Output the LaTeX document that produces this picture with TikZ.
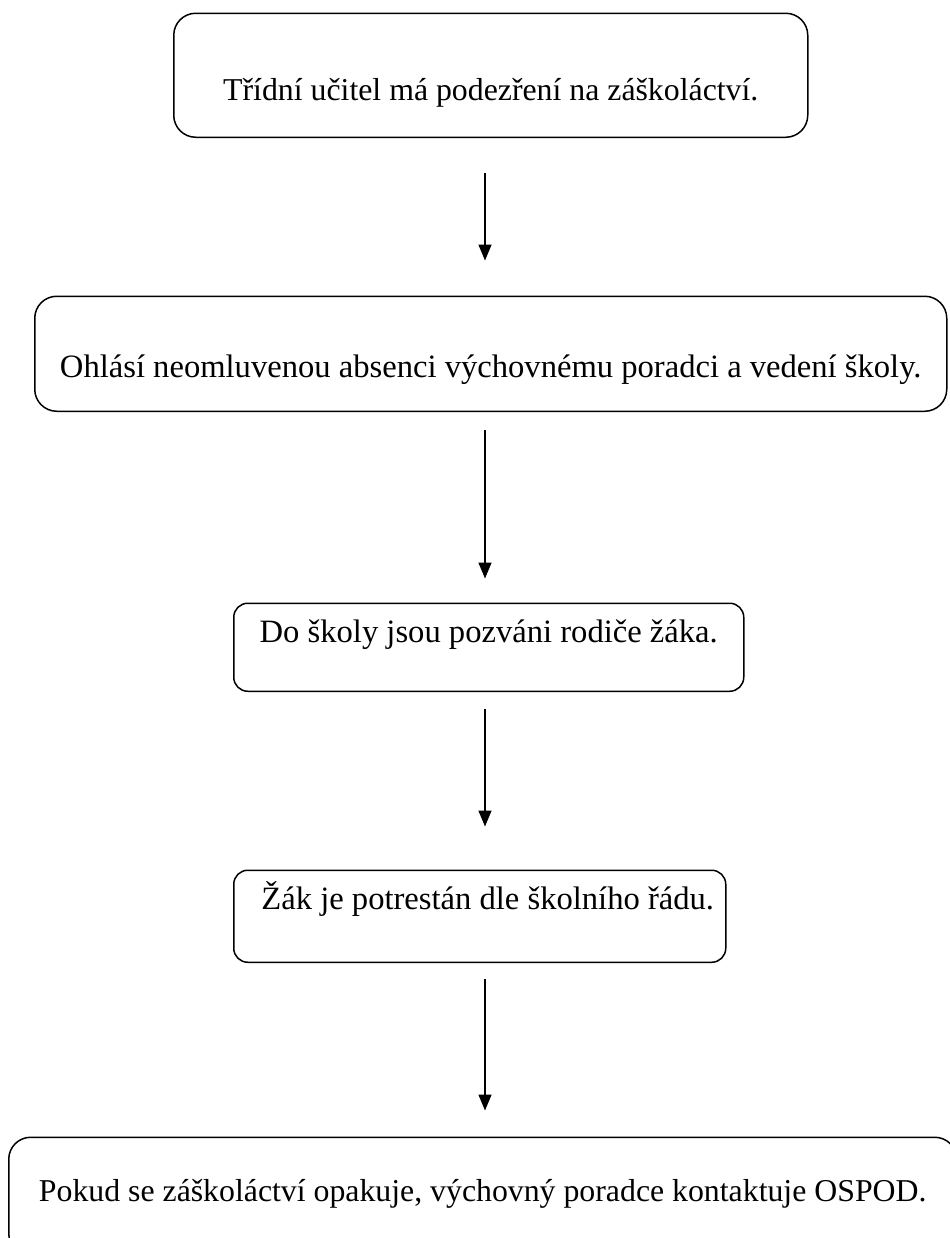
\documentclass[tikz,border=0pt]{standalone}
\usepackage{fontspec}
\setmainfont{Liberation Serif}
\usetikzlibrary{arrows.meta,positioning}

\tikzset{
  krok/.style={draw, line width=0.75pt, rounded corners=11pt, inner xsep=0pt, inner ysep=0pt,
    anchor=south west, align=center, font=\fontsize{16.3}{20}\selectfont},
  maly/.style={krok, rounded corners=7pt},
  uzky/.style={font=\fontsize{15.9}{20}\selectfont},
  sipka/.style={-{Triangle[length=8pt,width=6.5pt]}, line width=0.75pt},
}

\begin{document}
\begin{tikzpicture}[x=0.5pt,y=-0.5pt]
\useasboundingbox (0,0) rectangle (949,1238);
\coordinate (osa) at (485,0);

% jednotlive kroky
\node [krok, uzky, minimum width=317pt, text height=43.5pt, text depth=18.5pt] (ucitel) at (173,138)
      {Třídní učitel má podezření na záškoláctví.};
\node [krok, minimum width=456pt, text height=40.5pt, text depth=17pt] (ohlasi) at (34,412)
      {Ohlásí neomluvenou absenci výchovnému poradci a vedení školy.};
\node [maly, minimum width=255pt, text height=19.5pt, text depth=24.5pt] (rodice) at (233,692)
      {Do školy jsou pozváni rodiče žáka.};
\node [maly, minimum width=246pt, text height=19.5pt, text depth=26.5pt] (trest) at (233,963)
      {\hspace*{8pt}Žák je potrestán dle školního řádu.};
\node [krok, uzky, minimum width=474pt, text height=32pt, text depth=27pt] (ospod) at (8,1256)
      {Pokud se záškoláctví opakuje, výchovný poradce kontaktuje OSPOD.};

% sipky
\draw [sipka, shorten <=17.5pt, shorten >=17.5pt] (ucitel.south -| osa) -- (ohlasi.north -| osa);
\draw [sipka, shorten <=9pt, shorten >=12pt] (ohlasi.south -| osa) -- (rodice.north -| osa);
\draw [sipka, shorten <=8.5pt, shorten >=21.5pt] (rodice.south -| osa) -- (trest.north -| osa);
\draw [sipka, shorten <=8pt, shorten >=13pt] (trest.south -| osa) -- (ospod.north -| osa);
\end{tikzpicture}
\end{document}
